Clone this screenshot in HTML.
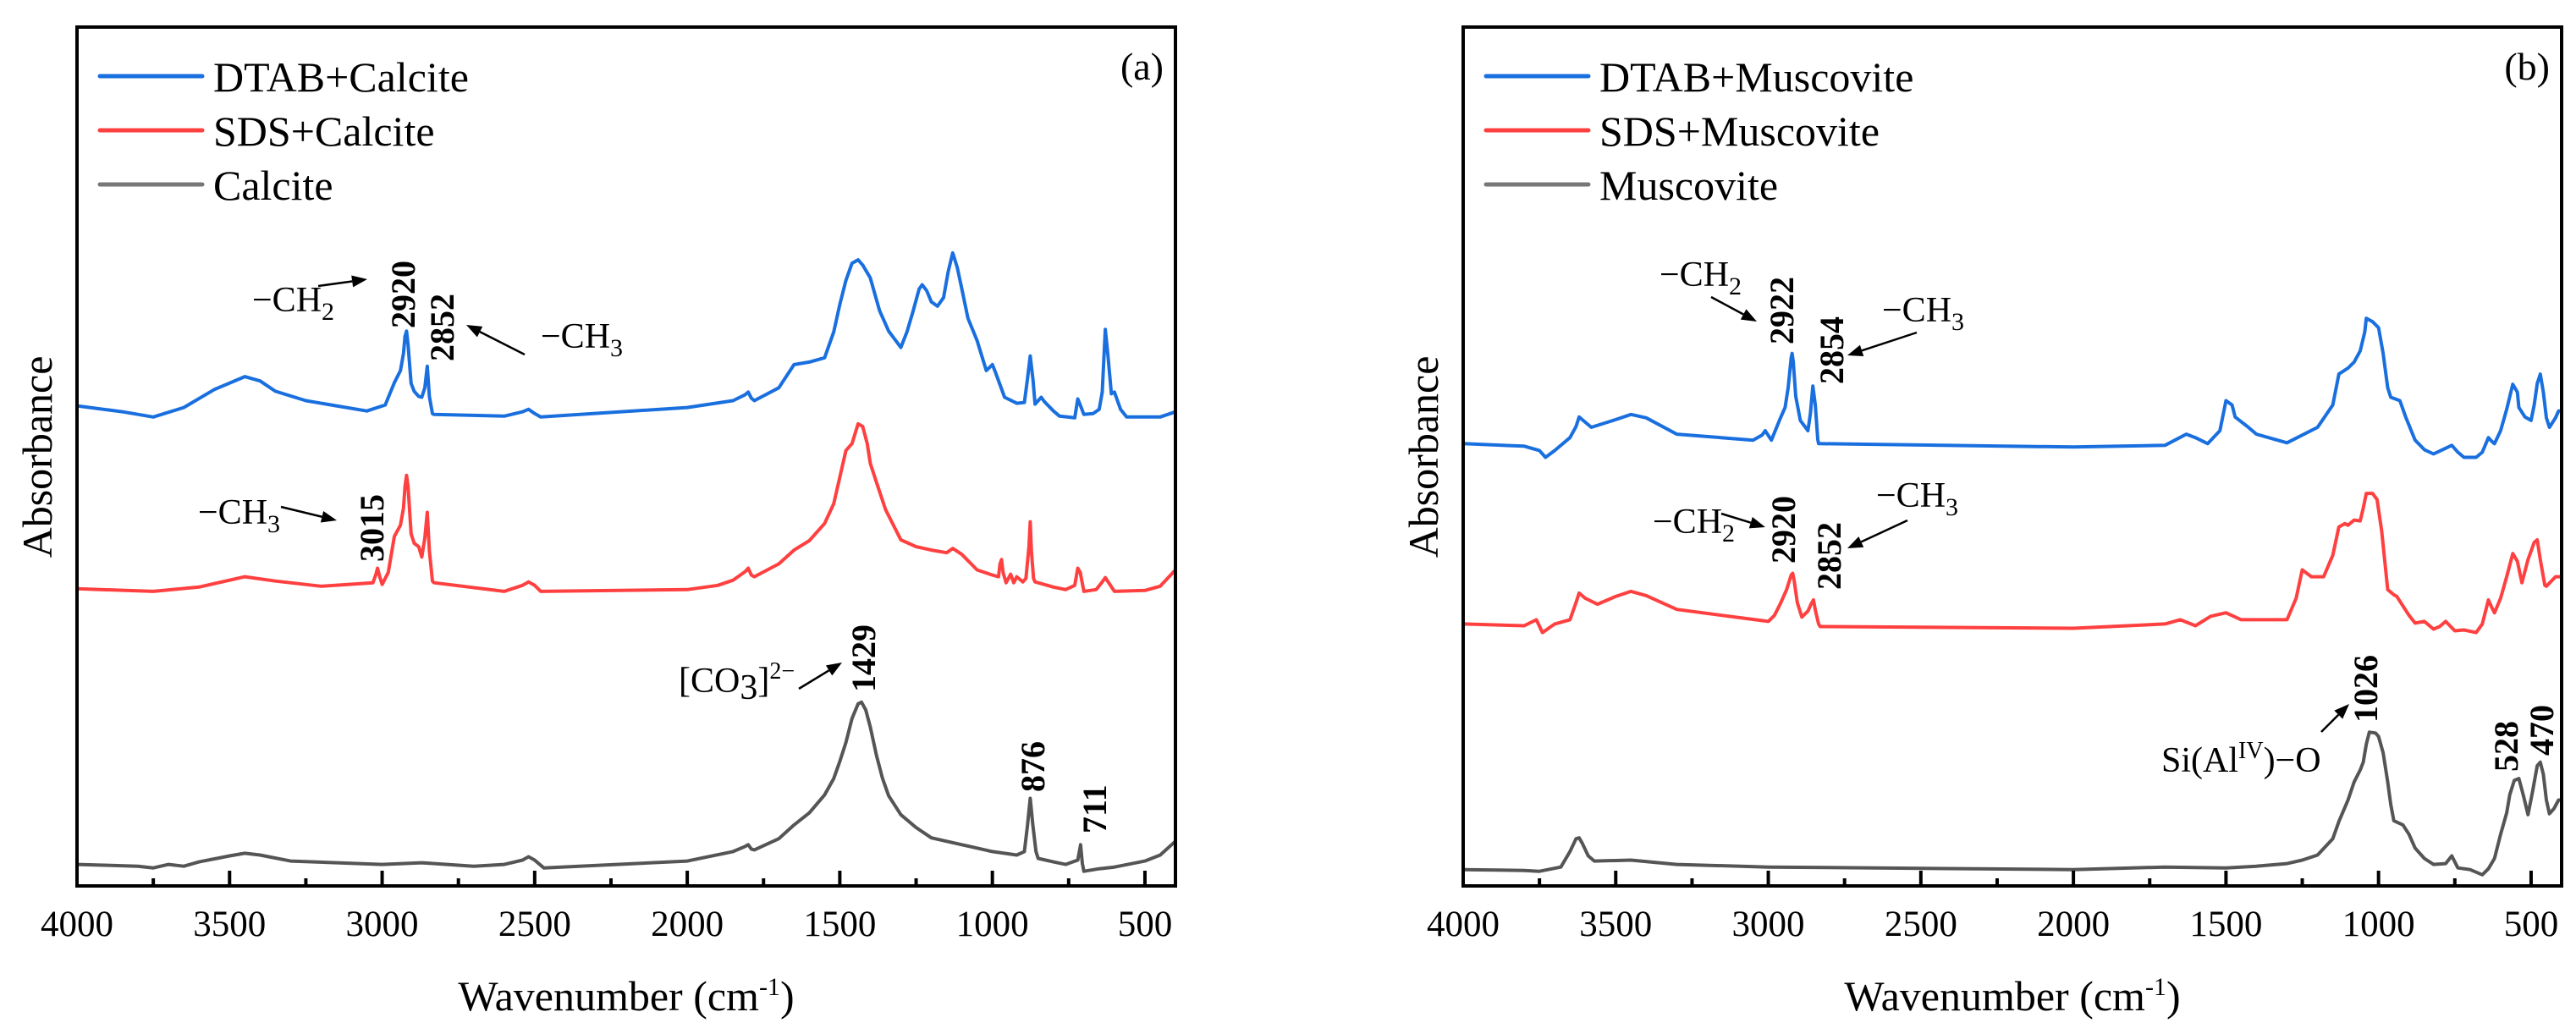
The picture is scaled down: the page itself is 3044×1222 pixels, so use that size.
<!DOCTYPE html>
<html><head><meta charset="utf-8"><style>
html,body{margin:0;padding:0;background:#fff;}
svg{display:block;font-family:"Liberation Serif",serif;}
</style></head><body>
<svg id="fig" width="3044" height="1222" viewBox="0 0 3044 1222" xmlns="http://www.w3.org/2000/svg">
<g id="pa"></g>
<g id="pb"></g>
</svg>
<script>
// ---------- data (wavenumber, absorbance a.u.) ----------
const aCalciteX = [4000,3900,3800,3750,3700,3650,3600,3500,3450,3400,3300,3000,2870,2700,2600,2540,2520,2500,2470,2000,1850,1810,1800,1790,1780,1700,1650,1600,1550,1520,1500,1480,1460,1440,1429,1415,1400,1380,1360,1340,1300,1250,1200,1100,1050,1000,920,895,885,876,867,857,850,800,760,720,711,705,700,650,600,500,450,400];
const aCalciteY = [2.5,2.4,2.3,2.1,2.5,2.3,2.8,3.5,3.8,3.6,2.9,2.5,2.7,2.3,2.5,3.0,3.4,3.0,2.1,2.9,4.0,4.6,4.8,4.3,4.2,5.5,7.1,8.5,10.6,12.5,14.5,16.7,19.5,21.2,21.4,20.5,18.5,15.2,12.5,10.5,8.3,6.8,5.6,4.8,4.4,4.0,3.6,4.0,7.0,10.2,7.0,4.0,3.2,2.8,2.5,3.0,4.8,2.6,1.7,2.0,2.2,2.9,3.6,5.2];
const aSdsX = [4000,3750,3600,3450,3350,3200,3030,3020,3015,3008,3000,2980,2960,2940,2930,2925,2920,2915,2905,2895,2880,2870,2860,2852,2845,2835,2830,2600,2540,2520,2500,2480,2000,1900,1850,1810,1800,1790,1780,1700,1650,1600,1550,1520,1500,1480,1460,1440,1425,1410,1400,1380,1350,1300,1250,1200,1150,1130,1100,1050,1000,980,975,970,965,955,940,930,920,900,890,880,876,872,865,860,800,760,730,720,712,700,660,640,630,600,500,450,400];
const aSdsY = [34.6,34.3,34.8,36.0,35.5,34.9,35.3,36.3,37.0,36.0,35.1,36.5,40.7,42.0,44.0,46.5,47.8,46.5,41.0,39.9,39.5,38.3,40.5,43.5,39.0,35.5,35.3,34.3,35.0,35.4,35.0,34.3,34.5,35.0,35.6,36.6,37.0,36.2,36.0,37.5,39.1,40.2,42.2,44.5,47.6,50.7,51.5,53.8,53.5,51.5,49.2,47.0,43.8,40.3,39.5,39.1,38.8,39.3,38.6,36.8,36.2,36.0,37.5,38.0,36.5,35.3,36.3,35.3,36.0,35.4,35.8,39.5,42.4,39.0,35.8,35.4,34.8,34.5,35.0,37.0,36.5,34.3,34.5,35.4,35.9,34.3,34.4,34.9,36.8];
const aDtabX = [4000,3850,3750,3650,3550,3450,3400,3350,3250,3150,3050,2990,2960,2940,2930,2925,2920,2915,2905,2895,2880,2870,2860,2852,2845,2835,2830,2600,2540,2520,2500,2480,2000,1850,1810,1800,1790,1780,1700,1650,1600,1550,1520,1500,1480,1460,1440,1425,1400,1370,1340,1300,1280,1260,1240,1230,1215,1200,1180,1160,1145,1130,1115,1100,1080,1050,1020,1000,990,960,920,895,885,876,867,860,840,830,800,780,730,720,712,700,670,650,640,630,622,610,600,580,560,450,400];
const aDtabY = [55.9,55.2,54.6,55.7,57.8,59.3,58.8,57.6,56.5,55.9,55.3,56.0,58.6,60.0,62.0,64.0,64.6,63.0,58.5,57.6,57.0,56.9,58.0,60.5,57.0,55.0,54.9,54.7,55.2,55.5,55.0,54.6,55.7,56.5,57.2,57.5,56.8,56.5,58.0,60.7,61.0,61.5,64.5,67.7,70.5,72.5,72.9,72.3,70.8,67.0,64.6,62.7,64.5,66.9,69.5,70.0,69.3,68.0,67.5,68.5,71.5,73.7,72.0,69.5,66.1,63.5,60.0,60.7,59.8,56.9,56.2,56.3,59.0,61.7,59.0,56.1,56.9,56.4,55.3,54.7,54.5,56.7,56.0,54.9,55.0,55.5,57.5,64.8,62.0,57.3,57.5,55.5,54.6,54.6,55.2];

const bMusX = [4000,3800,3750,3680,3650,3630,3620,3610,3590,3570,3450,3300,3000,2000,1700,1500,1400,1300,1250,1200,1150,1130,1100,1080,1060,1050,1040,1030,1010,1000,985,970,960,950,920,900,880,850,820,780,760,740,700,660,640,620,600,580,570,555,540,525,510,495,480,470,460,450,440,425,410,400];
const bMusY = [1.9,1.8,1.7,2.2,4.0,5.5,5.6,5.0,3.5,2.9,3.0,2.5,2.2,1.9,2.2,2.1,2.3,2.6,3.0,3.6,5.5,7.5,10.0,12.1,13.5,14.4,16.5,17.9,17.8,17.4,15.5,12.1,9.5,7.6,7.1,6.0,4.4,3.2,2.5,2.6,3.5,2.1,1.9,1.3,2.0,3.2,6.0,8.5,10.6,12.3,12.5,10.5,8.3,11.0,14.0,14.4,13.0,10.0,8.4,9.0,10.0,10.0];
const bSdsX = [4000,3800,3760,3740,3700,3650,3630,3620,3600,3560,3500,3450,3400,3300,3000,2980,2960,2940,2925,2920,2915,2905,2890,2870,2860,2852,2845,2835,2830,2000,1700,1650,1600,1550,1500,1450,1300,1270,1250,1220,1180,1150,1130,1110,1100,1080,1060,1050,1040,1020,1005,990,970,950,940,900,880,850,820,800,780,750,720,680,660,640,630,620,600,580,560,545,530,510,490,480,470,455,450,420,400];
const bSdsY = [30.5,30.3,31.0,29.5,30.5,31.0,33.0,34.1,33.5,32.8,33.7,34.3,33.8,32.2,30.8,31.5,32.9,34.5,36.2,36.4,35.5,33.0,31.3,32.0,32.8,33.3,32.0,30.5,30.2,30.0,30.5,31.0,30.3,31.4,31.8,31.0,31.0,33.5,36.8,36.0,36.0,38.5,41.8,42.2,42.0,42.6,42.5,44.0,45.7,45.7,45.0,41.4,34.5,33.9,33.7,31.5,30.6,30.8,29.9,30.2,30.8,29.7,29.8,29.5,30.5,33.3,32.5,31.8,33.5,36.0,38.7,37.8,35.3,38.0,40.0,40.3,38.0,35.0,34.9,36.0,36.0];
const bDtabX = [4000,3800,3750,3730,3700,3650,3630,3620,3600,3580,3500,3450,3400,3300,3050,3020,3010,2990,2960,2945,2935,2925,2922,2918,2910,2895,2870,2862,2854,2846,2838,2835,2000,1700,1630,1600,1560,1520,1500,1480,1470,1430,1400,1300,1200,1150,1130,1100,1080,1060,1045,1040,1020,1000,985,970,960,930,910,880,850,820,790,760,740,720,680,660,640,630,620,600,580,560,545,540,520,500,490,480,470,460,450,440,420,410,400];
const bDtabY = [51.5,51.2,50.7,49.9,50.7,52.2,53.5,54.6,54.0,53.4,54.3,54.9,54.5,52.6,51.9,52.5,53.0,51.9,54.5,55.7,58.0,61.5,62.0,61.0,57.0,54.2,53.0,55.0,58.2,56.0,52.0,51.5,51.1,51.3,52.6,52.2,51.5,53.0,56.5,56.0,54.6,53.5,52.6,51.6,53.4,56.0,59.6,60.3,61.0,62.3,64.5,66.1,65.7,65.0,62.0,58.0,56.9,56.5,54.5,51.9,50.8,50.3,50.8,51.3,50.5,49.9,49.9,50.5,52.2,51.8,51.5,53.0,55.5,58.4,57.5,55.7,54.6,54.2,56.0,58.5,59.6,57.5,54.5,53.4,54.5,55.3,55.3];

const xTicks = [4000,3500,3000,2500,2000,1500,1000,500];
const xMinor = [3750,3250,2750,2250,1750,1250,750];

// ---------- layout ----------
const NS = "http://www.w3.org/2000/svg";
const TOP = 32, BOT = 1047, W = 1298;
const BLUE = "#1a6fdf", RED = "#ff4040", GRAY = "#555555";
function mk(tag, attrs, parent){const e=document.createElementNS(NS,tag);for(const k in attrs)e.setAttribute(k,attrs[k]);parent.appendChild(e);return e;}

function panel(g, L, series, legendNames, tag){
  const sx = w => L + (4000 - w) / 3600 * W;
  const sy = v => BOT - v / 100 * (BOT - TOP);
  series.forEach(s => {
    const pts = s.x.map((w,i)=>sx(w).toFixed(1)+","+sy(s.y[i]).toFixed(1)).join(" ");
    const p = mk("polyline",{points:pts,fill:"none",stroke:s.c,"stroke-width":4,"stroke-linejoin":"round"},g);
    
    
  });
  const fr = mk("rect",{x:L,y:TOP,width:W,height:BOT-TOP,fill:"none",stroke:"#000","stroke-width":4},g);
  
  
  xTicks.forEach(t => {
    const x = sx(t);
    const tk = mk("line",{x1:x,x2:x,y1:BOT,y2:BOT-18,stroke:"#000","stroke-width":4},g);
    
    
    const lb = mk("text",{x:x,y:1106,"font-size":43,"text-anchor":"middle"},g);
    lb.textContent = t;
    
    
  });
  xMinor.forEach(t => {
    const x = sx(t);
    const tk = mk("line",{x1:x,x2:x,y1:BOT,y2:BOT-9,stroke:"#000","stroke-width":4},g);
    
    
  });
  const xt = mk("text",{x:L+W/2,y:1194,"font-size":50,"text-anchor":"middle"},g);
  xt.innerHTML = 'Wavenumber (cm<tspan dy="-18" font-size="30">-1</tspan><tspan dy="18">)</tspan>';
  
  
  const yt = mk("text",{x:0,y:0,"font-size":50,"text-anchor":"middle",transform:`translate(${L-30},540) rotate(-90)`},g);
  yt.textContent = "Absorbance";
  
  
  legendNames.forEach((n,i) => {
    const y = 90 + i*64;
    const ln = mk("line",{x1:L+27,x2:L+148,y1:y,y2:y,stroke:[BLUE,RED,"#777"][i],"stroke-width":5,"stroke-linecap":"round"},g);
    
    
    const tx = mk("text",{x:L+161,y:y+18,"font-size":50},g);
    tx.textContent = n;
    
    
  });
  const pl = mk("text",{x:L+W-14,y:94,"font-size":46,"text-anchor":"end"},g);
  pl.textContent = tag;
  
  
}

function note(g, x, y, html, name){
  const t = mk("text",{x:x,y:y,"font-size":42},g);
  t.innerHTML = html;
  
  
}
function peak(g, x, yb, s){
  const t = mk("text",{x:0,y:0,"font-size":40,"font-weight":"bold",transform:`translate(${x+14},${yb}) rotate(-90)`},g);
  t.textContent = s;
  
  
}
function arrow(g, x1,y1,x2,y2){
  const a = Math.atan2(y2-y1,x2-x1), L=18, w=7;
  const bx = x2 - L*Math.cos(a), by = y2 - L*Math.sin(a);
  const ln = mk("line",{x1:x1,y1:y1,x2:bx,y2:by,stroke:"#000","stroke-width":2.5},g);
  
  
  const px = -Math.sin(a)*w, py = Math.cos(a)*w;
  const hd = mk("polygon",{points:`${x2},${y2} ${bx+px},${by+py} ${bx-px},${by-py}`,fill:"#000"},g);
  
  
}
const sub = s => `<tspan dy="10" font-size="30">${s}</tspan><tspan dy="-10"></tspan>`;

const ga = document.getElementById("pa"), gb = document.getElementById("pb");
panel(ga, 91, [
  {x:aDtabX,y:aDtabY,c:BLUE,name:"dtab-calcite-spectrum"},
  {x:aSdsX,y:aSdsY,c:RED,name:"sds-calcite-spectrum"},
  {x:aCalciteX,y:aCalciteY,c:GRAY,name:"calcite-spectrum"}
], ["DTAB+Calcite","SDS+Calcite","Calcite"], "(a)");
panel(gb, 1729, [
  {x:bDtabX,y:bDtabY,c:BLUE,name:"dtab-muscovite-spectrum"},
  {x:bSdsX,y:bSdsY,c:RED,name:"sds-muscovite-spectrum"},
  {x:bMusX,y:bMusY,c:GRAY,name:"muscovite-spectrum"}
], ["DTAB+Muscovite","SDS+Muscovite","Muscovite"], "(b)");

note(ga,298,368,"−CH"+sub("2"),"ch2-annotation");
arrow(ga,376,338,434,330);
peak(ga,476,388,"2920"); peak(ga,522,427,"2852");
note(ga,639,411,"−CH"+sub("3"),"ch3-annotation");
arrow(ga,620,419,551,384);
note(ga,234,619,"−CH"+sub("3"),"ch3-annotation-sds");
arrow(ga,332,599,398,615);
peak(ga,439,664,"3015");
note(ga,802,818,'[CO<tspan dy="8">3</tspan><tspan dy="-8">]</tspan><tspan dy="-16" font-size="28">2−</tspan>',"carbonate-annotation");
arrow(ga,944,814,995,783);
peak(ga,1020,818,"1429"); peak(ga,1220,936,"876"); peak(ga,1293,985,"711");

note(gb,1961,338,"−CH"+sub("2"),"ch2-annotation");
arrow(gb,2022,351,2076,380);
peak(gb,2105,407,"2922"); peak(gb,2164,454,"2854");
note(gb,2224,380,"−CH"+sub("3"),"ch3-annotation");
arrow(gb,2265,393,2183,420);
note(gb,1953,630,"−CH"+sub("2"),"ch2-annotation-sds");
arrow(gb,2034,607,2086,623);
peak(gb,2107,666,"2920"); peak(gb,2161,697,"2852");
note(gb,2217,599,"−CH"+sub("3"),"ch3-annotation-sds");
arrow(gb,2254,615,2183,648);
note(gb,2554,912,'Si(Al<tspan dy="-16" font-size="28">IV</tspan><tspan dy="16">)−O</tspan>',"si-o-annotation");
arrow(gb,2743,865,2776,832);
peak(gb,2795,854,"1026"); peak(gb,2961,912,"528"); peak(gb,3003,893,"470");
</script>
</body></html>
